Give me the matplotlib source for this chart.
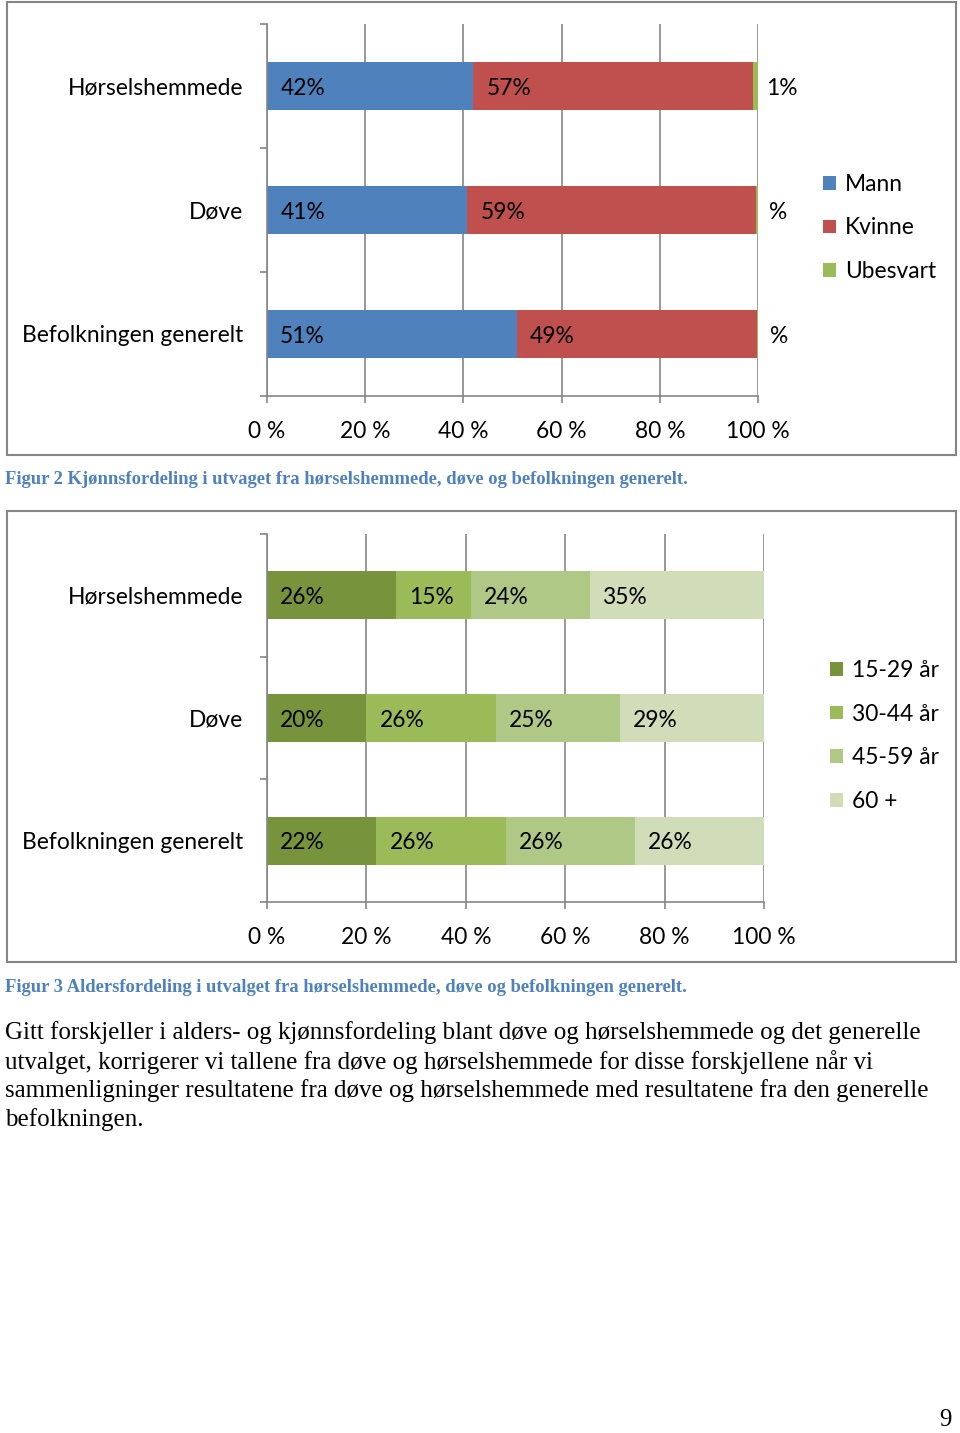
import matplotlib.pyplot as plt
from matplotlib.patches import Rectangle

W, H = 960, 1433

categories = ['Hørselshemmede', 'Døve', 'Befolkningen generelt']

gender_names = ['Mann', 'Kvinne', 'Ubesvart']
mann = [42, 40.8, 50.9]
kvinne = [57, 58.8, 48.9]
ubesvart = [1, 0.4, 0.2]
gender_colors = ['#4F81BD', '#C0504D', '#9BBB59']

age_names = ['15-29 år', '30-44 år', '45-59 år', '60 +']
age_15_29 = [26, 20, 22]
age_30_44 = [15, 26, 26]
age_45_59 = [24, 25, 26]
age_60 = [35, 29, 26]
age_colors = ['#77933C', '#9BBB59', '#AFC886', '#D1DDB9']

xticks = [0, 20, 40, 60, 80, 100]
xticklabels = ['0 %', '20 %', '40 %', '60 %', '80 %', '100 %']

caption_1 = 'Figur 2 Kjønnsfordeling i utvaget fra hørselshemmede, døve og befolkningen generelt.'
caption_2 = 'Figur 3 Aldersfordeling i utvalget fra hørselshemmede, døve og befolkningen generelt.'
paragraph = [
    'Gitt forskjeller i alders- og kjønnsfordeling blant døve og hørselshemmede og det generelle',
    'utvalget, korrigerer vi tallene fra døve og hørselshemmede for disse forskjellene når vi',
    'sammenligninger resultatene fra døve og hørselshemmede med resultatene fra den generelle',
    'befolkningen.',
]

GRAY = '#868686'
FONT = 'Lato'
FS = 16.4


def fig_rect(x0, y0, x1, y1):
    return [x0 / W, 1 - y1 / H, (x1 - x0) / W, (y1 - y0) / H]


def pct(v):
    # excel style "#%" format: zero shows as a bare percent sign
    r = int(round(v))
    return ('%d' % r if r else '') + '%'


fig = plt.figure(figsize=(W / 100, H / 100), dpi=100)
fig.patch.set_facecolor('white')


def stacked_chart(plot_box, series, names, colors, legend_xy):
    ax = fig.add_axes(fig_rect(*plot_box))
    ypos = list(range(len(categories)))[::-1]
    left = [0] * len(categories)
    for vals, name, color in zip(series, names, colors):
        bars = ax.barh(ypos, vals, left=left, height=0.39, color=color,
                       label=name, zorder=2)
        for b, v in zip(bars, vals):
            ax.annotate(pct(v), (b.get_x(), b.get_y() + b.get_height() / 2),
                        xytext=(9.5, -1.5), textcoords='offset points',
                        ha='left', va='center', fontsize=FS, family=FONT,
                        color='black', annotation_clip=False, zorder=3)
        left = [l + v for l, v in zip(left, vals)]

    ax.set_xlim(0, 100)
    ax.set_ylim(-0.5, len(categories) - 0.5)
    ax.set_xticks(xticks)
    ax.set_xticklabels(xticklabels, fontsize=FS, family=FONT)
    ax.set_yticks([i - 0.5 for i in range(len(categories) + 1)])
    ax.set_yticklabels([])
    ax.set_yticks(ypos, minor=True)
    ax.set_yticklabels(categories, minor=True, fontsize=FS, family=FONT)
    ax.tick_params(axis='y', which='major', length=5, color=GRAY, width=1.2)
    ax.tick_params(axis='y', which='minor', length=0, pad=17)
    ax.tick_params(axis='x', length=5, color=GRAY, width=1.2, pad=13)
    ax.grid(axis='x', color=GRAY, lw=1.2, zorder=0)
    ax.set_axisbelow(True)
    for s in ['top', 'right']:
        ax.spines[s].set_visible(False)
    for s in ['left', 'bottom']:
        ax.spines[s].set_color(GRAY)
        ax.spines[s].set_linewidth(1.2)

    fig.legend(loc='center left', bbox_to_anchor=(legend_xy[0] / W, 1 - legend_xy[1] / H),
               frameon=False, prop={'family': FONT, 'size': FS},
               handlelength=0.55, handleheight=0.55, handletextpad=0.4,
               labelspacing=1.0, borderpad=0, borderaxespad=0,
               handles=ax.containers[:len(names)])
    return ax


def box(x0, y0, x1, y1):
    fig.patches.append(Rectangle((x0 / W, 1 - y1 / H), (x1 - x0) / W, (y1 - y0) / H,
                                 transform=fig.transFigure, fill=False,
                                 ec=GRAY, lw=1.5))


box(7, 2, 956, 455)
stacked_chart((267, 24, 758, 396), [mann, kvinne, ubesvart],
              gender_names, gender_colors, (823, 228))

box(7, 511, 956, 962)
stacked_chart((267, 534, 764, 902), [age_15_29, age_30_44, age_45_59, age_60],
              age_names, age_colors, (830, 736))

fig.text(5 / W, 1 - 480 / H, caption_1, ha='left', va='center',
         family='Liberation Serif', fontweight='bold', color='#4F81BD', fontsize=13.4)
fig.text(5 / W, 1 - 987 / H, caption_2, ha='left', va='center',
         family='Liberation Serif', fontweight='bold', color='#4F81BD', fontsize=13.4)

for i, line in enumerate(paragraph):
    fig.text(5 / W, 1 - (1033 + 29 * i) / H, line, ha='left', va='center',
             family='Liberation Serif', fontsize=18)

fig.text(945 / W, 1 - 1420 / H, '9', ha='center', va='center',
         family='Liberation Serif', fontsize=18)

fig.savefig('out.png', dpi=100)
